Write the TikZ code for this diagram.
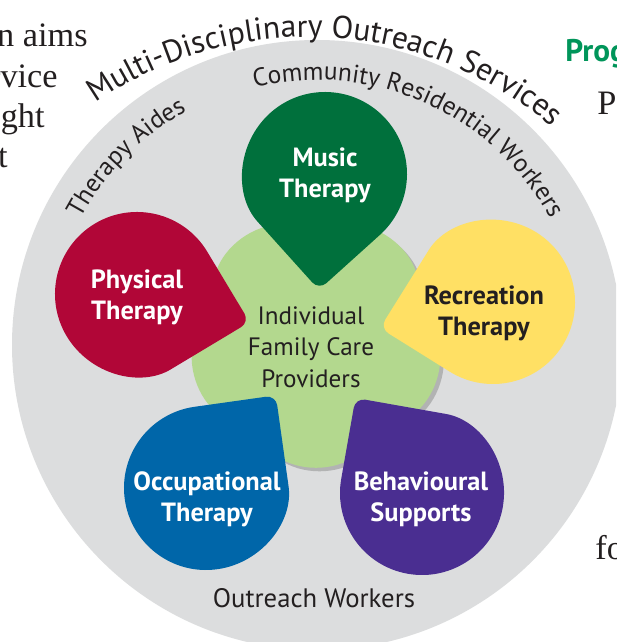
\documentclass[tikz,border=0pt]{standalone}
\usepackage{fontspec}
\setmainfont{PT Sans}
\newfontfamily\pageserif{Liberation Serif}
\usepackage{tikz}
\usetikzlibrary{decorations.text,shadows}

\definecolor{ringgrey}{HTML}{DCDDDE}
\definecolor{coregreen}{HTML}{B3D88E}
\definecolor{musicgreen}{HTML}{00703C}
\definecolor{physred}{HTML}{B10637}
\definecolor{recyellow}{HTML}{FFE064}
\definecolor{occblue}{HTML}{0066A9}
\definecolor{behpurple}{HTML}{4A2E91}
\definecolor{inktext}{HTML}{231F20}
\definecolor{headgreen}{HTML}{00955A}

\begin{document}
\begin{tikzpicture}[x=0.02cm, y=0.02cm,
	droplabel/.style={align=center, text=white, font=\bfseries\fontsize{15}{17.8}\selectfont},
	ringtext/.style={decorate, decoration={text along path, text align=center, text color=inktext}},
	pagetext/.style={inner sep=0pt, text=inktext, font=\pageserif\fontsize{19.5}{22}\selectfont}]
	\useasboundingbox (0,0) rectangle (616,642);
	\clip (0,0) rectangle (616,642);
	\fill[white] (0,0) rectangle (616,642);
	\fill[ringgrey] (317,297) circle[radius=305];
	\fill[coregreen, shift={(316,301)}, rounded corners=1cm, drop shadow={shadow xshift=2pt, shadow yshift=-2pt, opacity=0.45}]
	  (270:144) -- (342:144) -- (54:144) -- (126:144) -- (198:144) -- cycle;
	\fill[musicgreen, shift={(325,468)}] (-48:82) [rounded corners=0.2cm] -- (-93:116) -- (-138:82) [sharp corners] arc[start angle=-138, end angle=-408, radius=82] -- cycle;
	\fill[physred, shift={(137,348)}] (31:82) [rounded corners=0.2cm] -- (-14:116) -- (-59:82) [sharp corners] arc[start angle=-59, end angle=-329, radius=82] -- cycle;
	\fill[recyellow, shift={(493,340)}] (238:82) [rounded corners=0.2cm] -- (193:116) -- (148:82) [sharp corners] arc[start angle=148, end angle=-122, radius=82] -- cycle;
	\fill[occblue, shift={(206,154)}] (98:82) [rounded corners=0.2cm] -- (53:116) -- (8:82) [sharp corners] arc[start angle=8, end angle=-262, radius=82] -- cycle;
	\fill[behpurple, shift={(422,149)}] (170:82) [rounded corners=0.2cm] -- (125:116) -- (80:82) [sharp corners] arc[start angle=80, end angle=-190, radius=82] -- cycle;
	\node[droplabel] (music) at (325,467) {Music\\Therapy};
	\node[droplabel] (physical) at (137,345) {Physical\\Therapy};
	\node[droplabel, text=inktext] (recreation) at (484,329) {Recreation\\Therapy};
	\node[droplabel] (occupational) at (207,143) {Occupational\\Therapy};
	\node[droplabel] (behavioural) at (421,143) {Behavioural\\Supports};
	\node[align=center, text=inktext, font=\fontsize{14.3}{17.9}\selectfont] (providers) at (311,295) {Individual\\Family Care\\Providers};
	\node[text=inktext, font=\fontsize{15.2}{18}\selectfont] (outreach) at (314,44) {Outreach Workers};
	\path[ringtext, shift={(308,230)}, decoration={text={|\fontsize{18}{20}\selectfont|Multi-Disciplinary Outreach Services}}]
	  (132:375) arc[start angle=132, end angle=42, radius=375];
	\path[ringtext, shift={(317,297)}, decoration={text={|\fontsize{14.5}{16}\selectfont|Community Residential Workers}}]
	  (110:265) arc[start angle=110, end angle=22, radius=265];
	\path[ringtext, shift={(317,297)}, decoration={text={|\fontsize{14.5}{16}\selectfont|Therapy Aides}}]
	  (160:268) arc[start angle=160, end angle=111, radius=268];
	\node[pagetext, anchor=base east] (aims) at (88,595) {n aims};
	\node[pagetext, anchor=base east] (service) at (58,554) {rvice};
	\node[pagetext, anchor=base east] (ought) at (45,514) {ght};
	\node[pagetext, anchor=base east] (tfrag) at (8,474) {t};
	\node[anchor=base west, inner sep=0pt, text=headgreen, font=\bfseries\fontsize{17.8}{20}\selectfont] (prog) at (565,580) {Prog};
	\node[pagetext, anchor=base west] (pfrag) at (597,527) {P};
	\node[pagetext, anchor=base west] (fofrag) at (595,82) {fo};
\end{tikzpicture}
\end{document}
